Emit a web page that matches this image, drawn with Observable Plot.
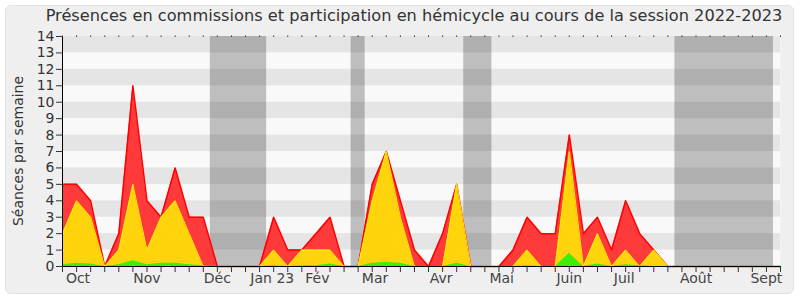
<!DOCTYPE html>
<html><head><meta charset="utf-8">
<script src="https://cdn.jsdelivr.net/npm/d3@7"></script>
<script src="https://cdn.jsdelivr.net/npm/@observablehq/plot@0.6"></script>
<style>
body{margin:0;background:#fff;}
#wrap{position:relative;width:800px;height:300px;font-family:"DejaVu Sans",sans-serif;overflow:hidden;}
#frame{position:absolute;left:5px;top:5px;width:787px;height:287px;background:#efefef;border:1px solid #e2e2e2;border-radius:6px;}
#title{position:absolute;left:28px;right:0;top:6px;text-align:center;font-size:16.2px;color:#333;white-space:nowrap;}
#ylabel{position:absolute;left:18px;top:151px;transform:translate(-50%,-50%) rotate(-90deg);font-size:14px;color:#333;white-space:nowrap;}
#chart{position:absolute;left:0;top:0;}
</style></head><body>
<div id="wrap"><div id="frame"></div><div id="title">Présences en commissions et participation en hémicycle au cours de la session 2022-2023</div><div id="ylabel">Séances par semaine</div><div id="chart"></div></div>
<script>
const weeks = [0,1,2,3,4,5,6,7,8,9,10,11,12,13,14,15,16,17,18,19,20,21,22,23,24,25,26,27,28,29,30,31,32,33,34,35,36,37,38,39,40,41,42,43,44,45,46,47,48,49,50,51];
const presences = [5,5,4,0,2,11,4,3,6,3,3,0,0,0,0,3,1,1,2,3,0,0,5,7,4,1,0,2,5,0,0,0,1,3,2,2,8,2,3,1,4,2,1,0,0,0,0,0,0,0,0,0];
const hemicycle = [2,4,3,0,1,5,1,3,4,2,0,0,0,0,0,1,0,1,1,1,0,0,4,7,3,0,0,0,5,0,0,0,0,1,0,0,7,0,2,0,1,0,1,0,0,0,0,0,0,0,0,0];
const interventions = [0.1,0.2,0.15,0,0.1,0.35,0.1,0.2,0.2,0.1,0.05,0,0,0,0,0.05,0,0.05,0.05,0.15,0,0,0.2,0.25,0.2,0,0,0,0.2,0,0,0,0,0.05,0,0,0.8,0,0.15,0,0.1,0.05,0,0,0,0,0,0,0,0,0,0];
const holidayStart = [10.5,20.5,28.5,43.5];
const holidayEnd = [14.5,21.5,30.5,50.5];
const monthPos = [1.1,6,11,14.9,18.1,22.2,26.9,31.2,36,39.9,45,50];
const monthNames = ["Oct","Nov","Déc","Jan 23","Fév","Mar","Avr","Mai","Juin","Juil","Août","Sept"];
const yTicks = [0,1,2,3,4,5,6,7,8,9,10,11,12,13,14];
const darkStripes = [1,3,5,7,9,11,13];

const data = weeks.map((w,i)=>({week:w, red:presences[i], yellow:hemicycle[i], green:interventions[i]}));
const holidays = holidayStart.map((s,i)=>({s, e:holidayEnd[i]}));
const monthLabel = new Map(monthPos.map((p,i)=>[p, monthNames[i]]));

const chart = Plot.plot({
  width: 800, height: 300,
  marginLeft: 62, marginRight: 20, marginTop: 36, marginBottom: 34,
  style: {background: "transparent", fontFamily: "DejaVu Sans, sans-serif", fontSize: "14px", color: "#333"},
  x: {domain: [0, 51], axis: null},
  y: {domain: [0, 14], axis: null},
  marks: [
    Plot.frame({fill: "#f9f9f9", stroke: null}),
    Plot.rect(darkStripes, {y1: d => d, y2: d => d + 1, fill: "#e5e5e5"}),
    Plot.rect(holidays, {x1: "s", x2: "e", fill: "#000", fillOpacity: 0.235}),
    Plot.areaY(data, {x: "week", y: "red", fill: "#ff3a3a"}),
    Plot.lineY(data, {x: "week", y: "red", stroke: "#ff0000", strokeWidth: 1.5}),
    Plot.areaY(data, {x: "week", y: "yellow", fill: "#ffd40d"}),
    Plot.lineY(data, {x: "week", y: "yellow", stroke: "#ffee00", strokeWidth: 1}),
    Plot.areaY(data, {x: "week", y: "green", fill: "#3cee0a"}),
    Plot.ruleY([0], {stroke: "#000", strokeWidth: 1.2}),
    Plot.ruleX([0], {stroke: "#000", strokeWidth: 1}),
    Plot.axisY(yTicks, {anchor: "left", tickSize: 6, tickPadding: 2, stroke: "#333", fill: "#333", fontSize: 14}),
    Plot.axisX(weeks, {anchor: "bottom", tickSize: 6, tickFormat: () => "", stroke: "#333"}),
    Plot.axisX(weeks, {anchor: "top", tickSize: 1.5, tickFormat: () => "", stroke: "#333"}),
    Plot.axisX(monthPos, {anchor: "bottom", tickSize: 0, tickPadding: 7, tickFormat: d => monthLabel.get(d), fill: "#444", fontSize: 14})
  ]
});
document.getElementById("chart").appendChild(chart);
</script>
</body></html>
